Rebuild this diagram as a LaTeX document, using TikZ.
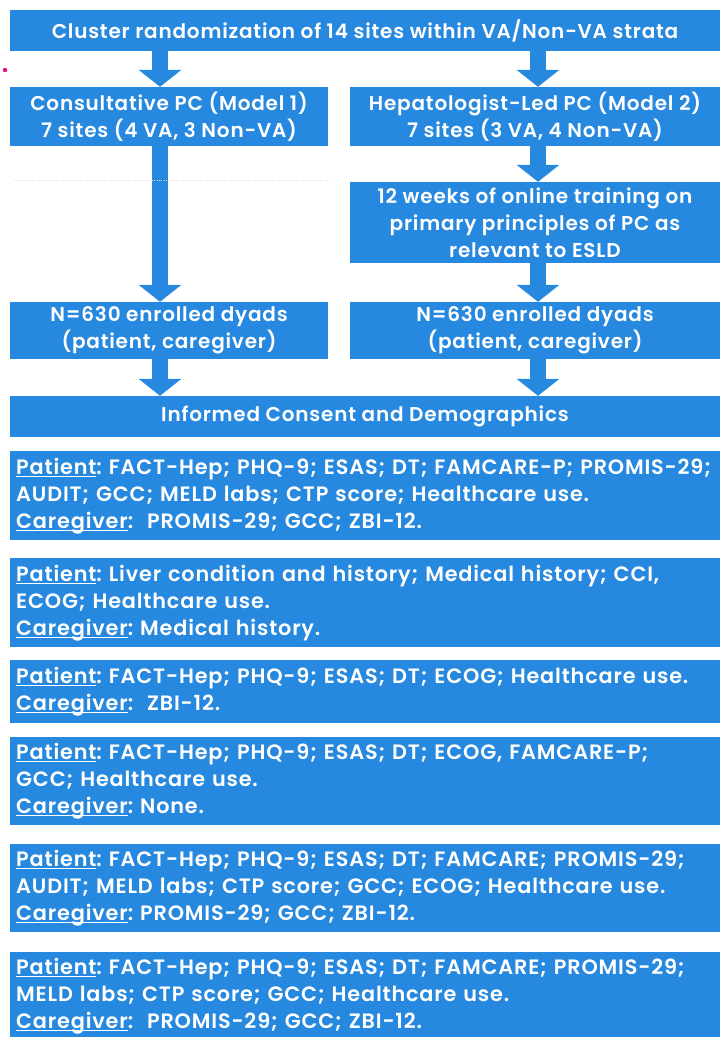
\documentclass[tikz,border=0pt]{standalone}
\usepackage{fontspec}
\setmainfont{Poppins}[BoldFont={Poppins SemiBold}, LetterSpace=4]
\usetikzlibrary{arrows.meta}
\definecolor{boxblue}{RGB}{38,136,222}
\newcommand{\lbl}[1]{\leavevmode\setbox0\hbox{#1}\rlap{\rule[-2.5pt]{\wd0}{0.8pt}}\box0}
\frenchspacing
\tikzset{
	box/.style={fill=boxblue, text=white, font=\bfseries\fontsize{20}{27}\selectfont, inner sep=0pt, align=center},
	listbox/.style={box, font=\bfseries\fontsize{20.8}{27}\selectfont, anchor=north west, minimum width=710pt, text width=700pt, inner xsep=6pt, align=left},
	flow/.style={boxblue, line width=16pt, -{Triangle[width=42pt,length=17pt]}}
}
\begin{document}
\begin{tikzpicture}[x=1pt,y=-1pt]
	\useasboundingbox (0,0) rectangle (720,1037);
	\coordinate (lcol) at (160,0);
	\coordinate (rcol) at (538,0);

	\node (rand) [box, minimum width=710pt, minimum height=41pt] at (365,30.5) {Cluster randomization of 14 sites within VA/Non-VA strata};
	\node (mod1) [box, minimum width=318pt, minimum height=59pt] at (169,116.5) {Consultative PC (Model 1)\\7 sites (4 VA, 3 Non-VA)};
	\node (mod2) [box, minimum width=370pt, minimum height=59pt] at (535,116.5) {Hepatologist-Led PC (Model 2)\\7 sites (3 VA, 4 Non-VA)};
	\node (train) [box, minimum width=370pt, minimum height=81pt] at (535,222.5) {12 weeks of online training on\\primary principles of PC as\\relevant to ESLD};
	\node (enr1) [box, minimum width=318pt, minimum height=57pt] at (169,330.5) {N=630 enrolled dyads\\(patient, caregiver)};
	\node (enr2) [box, minimum width=370pt, minimum height=57pt] at (535,330.5) {N=630 enrolled dyads\\(patient, caregiver)};
	\node (cons) [box, minimum width=710pt, minimum height=41pt] at (365,416.5) {Informed Consent and Demographics};

	\draw [flow] (rand.south -| lcol) -- (mod1.north -| lcol);
	\draw [flow] (rand.south -| rcol) -- (mod2.north -| rcol);
	\draw [flow] (mod1.south -| lcol) -- (enr1.north -| lcol);
	\draw [flow] (mod2.south -| rcol) -- (train.north -| rcol);
	\draw [flow] (train.south -| rcol) -- (enr2.north -| rcol);
	\draw [flow] (enr1.south -| lcol) -- (cons.north -| lcol);
	\draw [flow] (enr2.south -| rcol) -- (cons.north -| rcol);

	\node (base) [listbox, minimum height=89pt] at (10,451) {\lbl{Patient}: FACT-Hep; PHQ-9; ESAS; DT; FAMCARE-P; PROMIS-29;\\AUDIT; GCC; MELD labs; CTP score; Healthcare use.\\\lbl{Caregiver}:\ \ PROMIS-29; GCC; ZBI-12.};
	\node (hist) [listbox, minimum height=89pt] at (10,558) {\lbl{Patient}: Liver condition and history; Medical history; CCI,\\ECOG; Healthcare use.\\\lbl{Caregiver}: Medical history.};
	\node (fu1) [listbox, minimum height=63pt] at (10,660) {\lbl{Patient}: FACT-Hep; PHQ-9; ESAS; DT; ECOG; Healthcare use.\\\lbl{Caregiver}:\ \ ZBI-12.};
	\node (fu2) [listbox, minimum height=88pt] at (10,737) {\lbl{Patient}: FACT-Hep; PHQ-9; ESAS; DT; ECOG, FAMCARE-P;\\GCC; Healthcare use.\\\lbl{Caregiver}: None.};
	\node (fu3) [listbox, minimum height=88pt] at (10,844) {\lbl{Patient}: FACT-Hep; PHQ-9; ESAS; DT; FAMCARE; PROMIS-29;\\AUDIT; MELD labs; CTP score; GCC; ECOG; Healthcare use.\\\lbl{Caregiver}: PROMIS-29; GCC; ZBI-12.};
	\node (fu4) [listbox, minimum height=88pt] at (10,952) {\lbl{Patient}: FACT-Hep; PHQ-9; ESAS; DT; FAMCARE; PROMIS-29;\\MELD labs; CTP score; GCC; Healthcare use.\\\lbl{Caregiver}:\ \ PROMIS-29; GCC; ZBI-12.};

	\fill [magenta!80!purple] (5,70) circle (2.2pt);
	\draw [gray!25, dotted] (15,180) -- (330,180);
\end{tikzpicture}
\end{document}
